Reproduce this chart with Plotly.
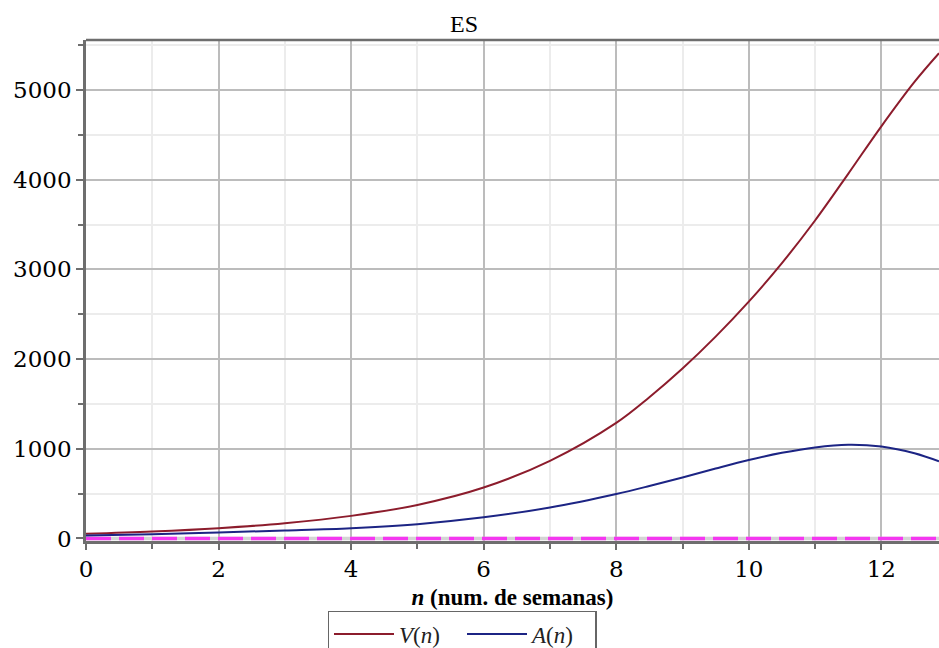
import plotly.graph_objects as go

# weeks and the two modelled quantities
n_weeks_v = [0, 1, 2, 3, 4, 5, 6, 7, 8, 8.5, 9, 9.5, 10, 10.5, 11, 11.5, 12, 12.5, 12.87]
v_vals = [52, 78, 115, 170, 252, 374, 568, 866, 1289, 1575, 1895, 2250, 2640, 3070, 3545,
          4065, 4595, 5090, 5410]
n_weeks_a = [0, 1, 2, 3, 4, 5, 6, 7, 8, 8.5, 9, 9.5, 10, 10.5, 11, 11.5, 12, 12.5, 12.87]
a_vals = [33, 48, 67, 89, 115, 160, 236, 345, 496, 585, 680, 780, 875, 955, 1015, 1045,
          1025, 950, 860]
x_range = [0, 12.87]
y_range = [-28, 5557]

SERIF = "Liberation Serif"
TICK_FONT = "DejaVu Serif"
AXIS_COL = "#6e6e6e"

fig = go.Figure()

# reference lines at zero
fig.add_trace(go.Scatter(x=x_range, y=[0, 0], mode="lines",
                         line=dict(color="#d4d4d4", width=3.5),
                         showlegend=False, hoverinfo="skip"))
fig.add_trace(go.Scatter(x=x_range, y=[0, 0], mode="lines",
                         line=dict(color="#f437f0", width=3.5, dash="25px,8px"),
                         showlegend=False, hoverinfo="skip"))

fig.add_trace(go.Scatter(x=n_weeks_v, y=v_vals, mode="lines", name="<i>V</i>(<i>n</i>)",
                         line=dict(color="#8c1c2c", width=2, shape="spline")))
fig.add_trace(go.Scatter(x=n_weeks_a, y=a_vals, mode="lines", name="<i>A</i>(<i>n</i>)",
                         line=dict(color="#1c2484", width=2, shape="spline")))

fig.update_layout(
    width=939, height=648,
    margin=dict(l=86, r=0, t=40, b=107, autoexpand=False),
    paper_bgcolor="white", plot_bgcolor="white",
    title=dict(text="ES", x=464 / 939, xanchor="center", y=1 - 24 / 648, yanchor="middle",
               font=dict(family=SERIF, size=24, color="black")),
    legend=dict(orientation="h", x=0.4408, xanchor="center", y=-0.1397, yanchor="top",
                bordercolor="#666666", borderwidth=1.5, bgcolor="white",
                font=dict(family=SERIF, size=23, color="#222222"),
                itemwidth=60, entrywidth=58, tracegroupgap=0),
    showlegend=True,
)

fig.update_xaxes(
    range=x_range, tickvals=[0, 2, 4, 6, 8, 10, 12],
    tickfont=dict(family=TICK_FONT, size=23, color="black"),
    ticks="outside", ticklen=6, tickwidth=1.5, tickcolor=AXIS_COL,
    showline=True, linecolor=AXIS_COL, linewidth=2.5,
    showgrid=True, gridcolor="#bcbcbc", gridwidth=1.5,
    minor=dict(tickvals=[1, 3, 5, 7, 9, 11], ticks="outside", ticklen=5, tickwidth=1.5,
               tickcolor=AXIS_COL, showgrid=True, gridcolor="#ececec", gridwidth=1.5),
    zeroline=False,
    title=dict(text="<b><i>n</i> (num. de semanas)</b>", standoff=8,
               font=dict(family=SERIF, size=23, color="black")),
)
fig.update_yaxes(
    range=y_range, tickvals=[0, 1000, 2000, 3000, 4000, 5000],
    tickfont=dict(family=TICK_FONT, size=23, color="black"),
    ticks="outside", ticklen=7, tickwidth=1.5, tickcolor=AXIS_COL,
    showline=True, linecolor=AXIS_COL, linewidth=2.5,
    showgrid=True, gridcolor="#bcbcbc", gridwidth=1.5,
    minor=dict(tickvals=[500, 1500, 2500, 3500, 4500, 5500], ticks="outside", ticklen=5,
               tickwidth=1.5, tickcolor=AXIS_COL, showgrid=True, gridcolor="#ececec", gridwidth=1.5),
    zeroline=False,
)

# top frame line
fig.add_shape(type="line", xref="paper", yref="paper", x0=0, x1=1, y0=1, y1=1,
              line=dict(color=AXIS_COL, width=2.5))

fig.write_html("out.html")
